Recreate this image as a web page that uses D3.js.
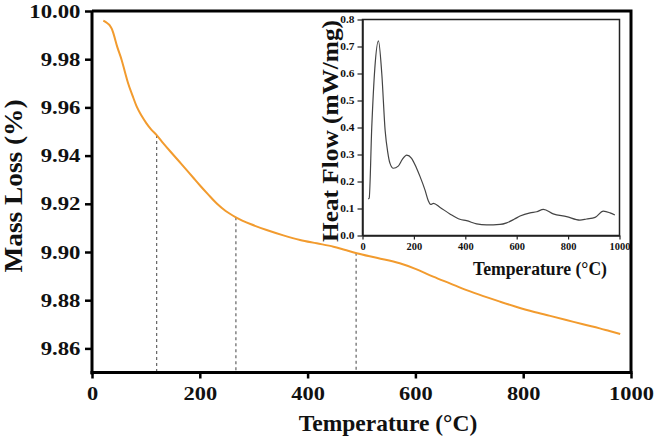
<!DOCTYPE html>
<html>
<head>
<meta charset="utf-8">
<script src="https://cdn.jsdelivr.net/npm/d3@7"></script>
<style>
  html, body { margin: 0; padding: 0; background: #fff; }
  svg { display: block; }
  text { font-family: "Liberation Serif", "Times New Roman", serif; font-weight: bold; fill: #111; }
</style>
</head>
<body>
<svg id="chart" width="656" height="441"></svg>
<script>
// ---- Main TGA curve (Temperature °C, Mass Loss %) ----
const tgaTemp = [21, 28, 33, 37, 40, 47, 55, 61, 67, 75, 83, 92, 101, 110, 120, 132, 145, 166, 188, 200, 215, 231, 248, 267, 295, 324, 355, 386, 417, 448, 470, 491, 530, 571, 600, 633, 664, 695, 726, 757, 788, 819, 850, 880, 911, 942, 960, 980];
const tgaMass = [9.9960, 9.9950, 9.9940, 9.9925, 9.9905, 9.9850, 9.9797, 9.9748, 9.9700, 9.9650, 9.9603, 9.9565, 9.9534, 9.9508, 9.9485, 9.9452, 9.9418, 9.9365, 9.9308, 9.9277, 9.9240, 9.9202, 9.9170, 9.9144, 9.9115, 9.9091, 9.9069, 9.9050, 9.9036, 9.9022, 9.9008, 9.8995, 9.8975, 9.8953, 9.8930, 9.8898, 9.8870, 9.8842, 9.8817, 9.8794, 9.8772, 9.8752, 9.8735, 9.8718, 9.8700, 9.8683, 9.8672, 9.8660];

// dashed drop lines (temperature, mass at curve)
const dropTemp = [120, 267, 490];
const dropMass = [9.9485, 9.9144, 9.8997];

// ---- Inset DSC curve (Temperature °C, Heat Flow mW/mg) ----
const dscTemp = [22, 26, 36, 48, 62, 75, 88, 98, 107, 120, 139, 155, 172, 191, 210, 224, 243, 256, 265, 276, 302, 340, 379, 405, 444, 483, 535, 561, 590, 613, 652, 678, 704, 742, 794, 846, 872, 905, 937, 963, 982];
const dscHeat = [0.135, 0.138, 0.40, 0.62, 0.721, 0.60, 0.39, 0.31, 0.267, 0.249, 0.257, 0.282, 0.298, 0.286, 0.250, 0.218, 0.169, 0.129, 0.115, 0.119, 0.104, 0.080, 0.060, 0.055, 0.043, 0.039, 0.041, 0.047, 0.060, 0.072, 0.084, 0.088, 0.097, 0.080, 0.070, 0.057, 0.061, 0.067, 0.090, 0.084, 0.076];

// ---- Tick labels ----
const mainXTicks = [0, 200, 400, 600, 800, 1000];
const mainYTicks = [9.86, 9.88, 9.90, 9.92, 9.94, 9.96, 9.98, 10.00];
const insetXTicks = [0, 200, 400, 600, 800, 1000];
const insetYTicks = [0.0, 0.1, 0.2, 0.3, 0.4, 0.5, 0.6, 0.7, 0.8];

const svg = d3.select("#chart");

// ===== Main chart =====
const x = d3.scaleLinear().domain([0, 1000]).range([92, 631]);
const y = d3.scaleLinear().domain([9.85, 10.00]).range([372.5, 11]);

// frame (top & right)
svg.append("path")
  .attr("d", `M${x(0)},${y(10)}H${x(1000)}V${y(9.85)}`)
  .attr("fill", "none").attr("stroke", "#000").attr("stroke-width", 3);

// dashed drop lines
svg.append("g").selectAll("line")
  .data(dropTemp.map((t, i) => [t, dropMass[i]]))
  .join("line")
  .attr("x1", d => x(d[0])).attr("x2", d => x(d[0]))
  .attr("y1", d => y(d[1])).attr("y2", y(9.85))
  .attr("stroke", "#555").attr("stroke-width", 1.1)
  .attr("stroke-dasharray", "3,3");

// TGA line
const tgaData = tgaTemp.map((t, i) => [t, tgaMass[i]]);
svg.append("path")
  .datum(tgaData)
  .attr("fill", "none")
  .attr("stroke", "#F29B2E")
  .attr("stroke-width", 2)
  .attr("d", d3.line().x(d => x(d[0])).y(d => y(d[1])).curve(d3.curveMonotoneX));

// axes
const gx = svg.append("g").attr("transform", `translate(0,${y(9.85)})`)
  .call(d3.axisBottom(x).tickValues(mainXTicks).tickFormat(d3.format("d")).tickSize(6).tickSizeOuter(0).tickPadding(8));
const gy = svg.append("g").attr("transform", `translate(${x(0)},0)`)
  .call(d3.axisLeft(y).tickValues(mainYTicks).tickFormat(d3.format(".2f")).tickSize(7).tickSizeOuter(0));

[gx, gy].forEach(g => {
  g.select(".domain").attr("stroke", "#000").attr("stroke-width", 3);
  g.selectAll(".tick line").attr("stroke", "#000").attr("stroke-width", 2.5);
  g.selectAll("text").attr("font-size", 19).attr("font-family", "Liberation Serif").attr("font-weight", "bold").attr("fill", "#111");
});
gx.selectAll("text").attr("transform", "scale(1.18,1)");
gy.selectAll("text").attr("transform", "scale(1.2,1)").attr("x", -11.5 / 1.2);
gy.select(".domain").attr("d", `M0,${y(10)}V${y(9.85) + 2}`);
gx.select(".domain").attr("d", `M${x(0) - 1.5},0H${x(1000) + 1.5}`);

// axis titles
svg.append("text")
  .attr("x", 388).attr("y", 431)
  .attr("text-anchor", "middle").attr("font-size", 23.5)
  .text("Temperature (°C)");
svg.append("text")
  .attr("transform", "translate(22,186) rotate(-90)")
  .attr("text-anchor", "middle").attr("font-size", 25)
  .attr("textLength", 173).attr("lengthAdjust", "spacingAndGlyphs")
  .text("Mass Loss (%)");

// ===== Inset =====
const ix = d3.scaleLinear().domain([0, 1000]).range([362.5, 619.5]);
const iy = d3.scaleLinear().domain([0, 0.8]).range([235.5, 19.5]);

svg.append("rect")
  .attr("x", ix(0)).attr("y", iy(0.8))
  .attr("width", ix(1000) - ix(0)).attr("height", iy(0) - iy(0.8))
  .attr("fill", "#fff").attr("stroke", "#222").attr("stroke-width", 1.5);

const dscData = dscTemp.map((t, i) => [t, dscHeat[i]]);
svg.append("path")
  .datum(dscData)
  .attr("fill", "none")
  .attr("stroke", "#444")
  .attr("stroke-width", 1.2)
  .attr("d", d3.line().x(d => ix(d[0])).y(d => iy(d[1])).curve(d3.curveMonotoneX));

const igx = svg.append("g").attr("transform", `translate(0,${iy(0)})`)
  .call(d3.axisBottom(ix).tickValues(insetXTicks).tickFormat(d3.format("d")).tickSize(4).tickSizeOuter(0).tickPadding(4));
const igy = svg.append("g").attr("transform", `translate(${ix(0)},0)`)
  .call(d3.axisLeft(iy).tickValues(insetYTicks).tickFormat(d3.format(".1f")).tickSize(5).tickSizeOuter(0));
[igx, igy].forEach(g => {
  g.select(".domain").attr("stroke", "#222").attr("stroke-width", 1.5);
  g.selectAll(".tick line").attr("stroke", "#222").attr("stroke-width", 1.2);
  g.selectAll("text").attr("font-size", 9.5).attr("font-family", "Liberation Serif").attr("font-weight", "bold").attr("fill", "#222");
});
igx.selectAll("text").attr("transform", "scale(1.1,1)");
igy.selectAll("text").attr("transform", "scale(1.2,1)").attr("x", -8 / 1.2);

svg.append("text")
  .attr("x", 540).attr("y", 275)
  .attr("text-anchor", "middle").attr("font-size", 18)
  .attr("textLength", 134).attr("lengthAdjust", "spacingAndGlyphs")
  .text("Temperature (°C)");
svg.append("text")
  .attr("transform", "translate(338,131) rotate(-90)")
  .attr("text-anchor", "middle").attr("font-size", 24)
  .attr("textLength", 222).attr("lengthAdjust", "spacingAndGlyphs")
  .text("Heat Flow (mW/mg)");
</script>
</body>
</html>
